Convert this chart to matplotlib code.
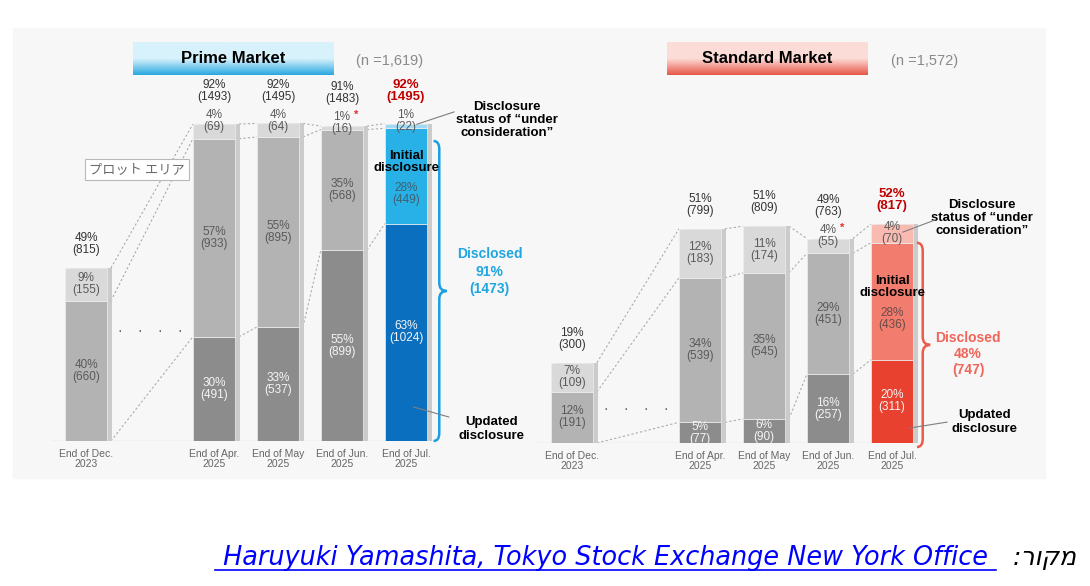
import numpy as np
import matplotlib
matplotlib.use('Agg')
import matplotlib.pyplot as plt
from matplotlib.patches import Rectangle, PathPatch
from matplotlib.path import Path
from matplotlib.lines import Line2D
from matplotlib.colors import LinearSegmentedColormap

plt.rcParams['font.family'] = ['Liberation Sans', 'DejaVu Sans']

W, H = 1090, 586

months = ['End of Dec.\n2023', 'End of Apr.\n2025', 'End of May\n2025',
          'End of Jun.\n2025', 'End of Jul.\n2025']
xpos = [0, 2, 3, 4, 5]

# Prime market (n=1,619): updated / initial / "under consideration"
prime_upd = [0, 491, 537, 899, 1024]
prime_ini = [660, 933, 895, 568, 449]
prime_con = [155, 69, 64, 16, 22]
prime_upd_pct = [None, 30, 33, 55, 63]
prime_ini_pct = [40, 57, 55, 35, 28]
prime_con_pct = [9, 4, 4, 1, 1]
prime_tot = [815, 1493, 1495, 1483, 1495]
prime_tot_pct = [49, 92, 92, 91, 92]
prime_disc = (91, 1473)

# Standard market (n=1,572)
std_upd = [0, 77, 90, 257, 311]
std_ini = [191, 539, 545, 451, 436]
std_con = [109, 183, 174, 55, 70]
std_upd_pct = [None, 5, 6, 16, 20]
std_ini_pct = [12, 34, 35, 29, 28]
std_con_pct = [7, 12, 11, 4, 4]
std_tot = [300, 799, 809, 763, 817]
std_tot_pct = [19, 51, 51, 49, 52]
std_disc = (48, 747)

grey = ['#8c8c8c', '#b3b3b3', '#d9d9d9']
blue = ['#0b6fc0', '#27b1e6', '#9fd9f3']
red = ['#e8412f', '#f27c6e', '#f8bab1']
bw = 0.66


def px_box(x0, y0, x1, y1):
    return [x0 / W, 1 - y1 / H, (x1 - x0) / W, (y1 - y0) / H]


fig = plt.figure(figsize=(W / 100, H / 100), dpi=100)
fig.patch.set_facecolor('white')
fig.add_artist(Rectangle(px_box(13, 28, 1045, 478)[:2], (1045 - 13) / W, (478 - 28) / H,
                         transform=fig.transFigure, color='#f7f7f7', zorder=0))


def lab(ax, x, y, txt, color, size=8.5, weight='normal', dy=0, dx=0, va='center'):
    ax.annotate(txt, (x, y), xytext=(dx, dy), textcoords='offset points', ha='center',
                va=va, fontsize=size, color=color, fontweight=weight, linespacing=1.0,
                zorder=6, annotation_clip=False)


def brace(ax, x, y0, y1, color, r):
    ym = (y0 + y1) / 2
    h = 0.09
    verts = [(x - h, y1), (x, y1), (x, y1 - r), (x, ym + r), (x, ym), (x + h * 1.3, ym),
             (x, ym), (x, ym - r), (x, y0 + r), (x, y0), (x - h, y0)]
    codes = [Path.MOVETO, Path.CURVE3, Path.CURVE3, Path.LINETO, Path.CURVE3, Path.CURVE3,
             Path.CURVE3, Path.CURVE3, Path.LINETO, Path.CURVE3, Path.CURVE3]
    ax.add_patch(PathPatch(Path(verts, codes), fill=False, ec=color, lw=1.8, zorder=4,
                           clip_on=False))


def panel(ax, upd, ini, con, upd_pct, ini_pct, con_pct, tot, tot_pct, last_cols, small,
          ini_txt_color):
    n = len(xpos)
    ax.hlines(0, -0.55, 5.5, color='#dcdcdc', lw=1, zorder=1)
    # dotted connectors between bars
    for i in range(n - 1):
        a = [upd[i], upd[i] + ini[i], upd[i] + ini[i] + con[i]]
        b = [upd[i + 1], upd[i + 1] + ini[i + 1], upd[i + 1] + ini[i + 1] + con[i + 1]]
        for ya, yb in zip(a, b):
            ax.plot([xpos[i] + bw / 2 + 0.06, xpos[i + 1] - bw / 2], [ya, yb], ls=(0, (2, 2)),
                    color='#ababab', lw=0.8, zorder=1)
    for i in range(n):
        x = xpos[i]
        last = i == n - 1
        cols = last_cols if last else grey
        top = upd[i] + ini[i] + con[i]
        ax.bar(x + 0.08, top, bw, color='#cbcbcb', zorder=2)
        if upd[i] > 0:
            ax.bar(x, upd[i], bw, color=cols[0], ec='#eeeeee', lw=0.5, zorder=3)
        ax.bar(x, ini[i], bw, bottom=upd[i], color=cols[1], ec='#eeeeee', lw=0.5, zorder=3)
        ax.bar(x, con[i], bw, bottom=upd[i] + ini[i], color=cols[2], ec='#eeeeee', lw=0.5,
               zorder=3)
        # segment labels
        if upd[i] > 0:
            lab(ax, x, upd[i] / 2, f'{upd_pct[i]}%\n({upd[i]})', '#f5f5f5')
        dy_ini = -13 if last else 0
        lab(ax, x, upd[i] + ini[i] / 2, f'{ini_pct[i]}%\n({ini[i]})',
            ini_txt_color if last else '#5a5a5a', dy=dy_ini)
        if con[i] < small:
            lab(ax, x, top, f'{con_pct[i]}%\n({con[i]})', '#5a5a5a', dy=2)
            off = 15
        else:
            lab(ax, x, top - con[i] / 2, f'{con_pct[i]}%\n({con[i]})', '#5a5a5a')
            off = 8.5
        if i == 3:
            lab(ax, x, top, '*', '#e03030', size=8, weight='bold', dx=10.5, dy=8)
        if last:
            lab(ax, x, top, f'{tot_pct[i]}%\n({tot[i]})', '#c00000', size=9.5, weight='bold',
                dy=off, va='bottom')
        else:
            lab(ax, x, top, f'{tot_pct[i]}%\n({tot[i]})', '#333333', dy=off, va='bottom')
    ax.set_xticks(xpos, months)
    ax.tick_params(axis='x', length=0, pad=5.5, labelsize=7.5, labelcolor='#666666')
    for t in ax.get_xticklabels():
        t.set_linespacing(1.1)
    ax.set_yticks([])
    for s in ax.spines.values():
        s.set_visible(False)
    ax.patch.set_visible(False)


# ---- Prime market
axp = fig.add_axes(px_box(13, 28, 535, 441))
axp.set_xlim(-(86 - 13) / 64, (535 - 86) / 64)
axp.set_ylim(0, 413 / 0.2123)
panel(axp, prime_upd, prime_ini, prime_con, prime_upd_pct, prime_ini_pct, prime_con_pct,
      prime_tot, prime_tot_pct, blue, 80, '#3f6070')
axp.text(1.0, 520, '·    ·    ·    ·', ha='center', va='center', fontsize=10, color='#555555')
axp.text(0.8, 1281, 'プロット エリア', ha='center', va='center', fontsize=9.5, color='#6a6a6a',
         family=['Noto Sans CJK JP', 'DejaVu Sans'],
         bbox=dict(boxstyle='square,pad=0.3', fc='white', ec='#b8b8b8', lw=0.8))
lab(axp, 5, 1314, 'Initial\ndisclosure', 'black', size=9.5, weight='bold')
brace(axp, 5.52, 0, prime_disc[1] - 60, '#1a9fe0', 38)
axp.text(6.31, 797, f'Disclosed\n{prime_disc[0]}%\n({prime_disc[1]})', ha='center',
         va='center', fontsize=10, fontweight='bold', color='#1fa6e0', linespacing=1.3)
axp.text(6.34, 57, 'Updated\ndisclosure', ha='center', va='center', fontsize=9.5,
         fontweight='bold', color='black', linespacing=1.15)
axp.plot([5.12, 5.67], [160, 113], color='#7f7f7f', lw=0.8, zorder=5)
axp.text(6.58, 1512, 'Disclosure\nstatus of \u201cunder\nconsideration\u201d', ha='center',
         va='center', fontsize=9.5, fontweight='bold', color='black', linespacing=1.1)
axp.plot([5.17, 5.75], [1492, 1550], color='#7f7f7f', lw=0.8, zorder=5)

# ---- Standard market
axs = fig.add_axes(px_box(535, 28, 1045, 443))
axs.set_xlim(-(572 - 535) / 64, (1045 - 572) / 64)
axs.set_ylim(0, 415 / 0.268)
panel(axs, std_upd, std_ini, std_con, std_upd_pct, std_ini_pct, std_con_pct,
      std_tot, std_tot_pct, red, 63, '#6b4b48')
axs.text(1.0, 127, '·    ·    ·    ·', ha='center', va='center', fontsize=10, color='#555555')
lab(axs, 5, 582, 'Initial\ndisclosure', 'black', size=9.5, weight='bold')
brace(axs, 5.48, -15, std_disc[1], '#ee5a4a', 30)
axs.text(6.19, 332, f'Disclosed\n{std_disc[0]}%\n({std_disc[1]})', ha='center',
         va='center', fontsize=10, fontweight='bold', color='#f0665a', linespacing=1.2)
axs.text(6.45, 78, 'Updated\ndisclosure', ha='center', va='center', fontsize=9.5,
         fontweight='bold', color='black', linespacing=1.15)
axs.plot([5.28, 5.86], [56, 78], color='#7f7f7f', lw=0.8, zorder=5)
axs.text(6.41, 840, 'Disclosure\nstatus of \u201cunder\nconsideration\u201d', ha='center',
         va='center', fontsize=9.5, fontweight='bold', color='black', linespacing=1.1)
axs.plot([5.17, 5.67], [787, 832], color='#7f7f7f', lw=0.8, zorder=5)

# ---- title boxes with gradient
grad = np.linspace(0, 1, 64).reshape(-1, 1)
for (x0, x1), c_top, c_bot, title, ntxt, nx in [
        ((133, 334), '#d8f2fc', '#2aa8e0', 'Prime Market', '(n =1,619)', 390),
        ((667, 868), '#fcdcd7', '#e8574a', 'Standard Market', '(n =1,572)', 925)]:
    tax = fig.add_axes(px_box(x0, 42, x1, 75))
    cmap = LinearSegmentedColormap.from_list('g', [c_top, c_top, c_bot])
    tax.imshow(grad, aspect='auto', cmap=cmap, extent=[0, 1, 0, 1], origin='upper')
    tax.text(0.5, 0.5, title, ha='center', va='center', fontsize=12, fontweight='bold',
             color='black', transform=tax.transAxes)
    tax.axis('off')
    fig.text(nx / W, 1 - 61 / H, ntxt, ha='center', va='center', fontsize=10.5,
             color='#8a8a8a')

# ---- source line
link = fig.text(215 / W, 1 - 558 / H,
                ' Haruyuki Yamashita, Tokyo Stock Exchange New York Office ',
                ha='left', va='center', fontsize=18.4, style='italic', color='#0000ff',
                family='DejaVu Sans')
fig.text(1077 / W, 1 - 558 / H, ':\u05e8\u05d5\u05e7\u05de', ha='right', va='center',
         fontsize=18, style='italic', color='black', family='DejaVu Sans')
fig.canvas.draw()
bb = link.get_window_extent()
fig.add_artist(Line2D([bb.x0 / W, bb.x1 / W], [(bb.y0 + 1) / H] * 2,
                      transform=fig.transFigure, color='#0000ff', lw=1.2))

fig.savefig('out.png', dpi=100)
